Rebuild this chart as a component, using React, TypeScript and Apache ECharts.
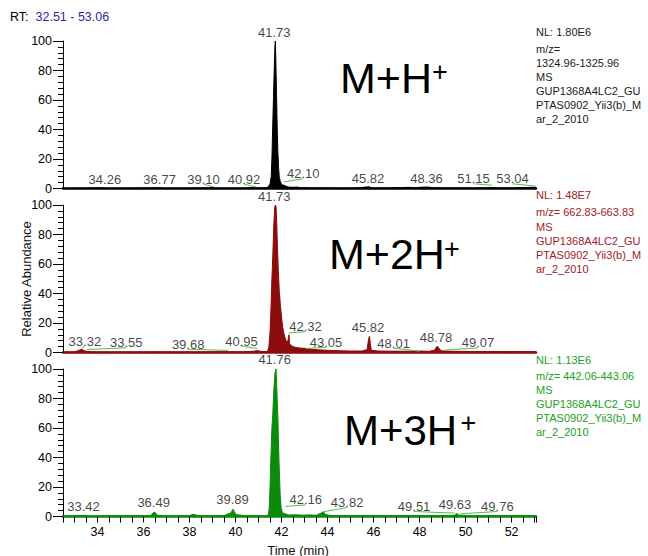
import React, { useEffect, useRef } from "react";
import * as echarts from "echarts";

// ---------- data ----------
const X_MIN = 32.5;
const X_MAX = 53.06;
const rtRange = "32.51 - 53.06";

// panel 1 : M+H+  (NL 1.80E6)
const trace1: number[][] = [
  [32.51, 0], [33.5, 0.2], [34.26, 0.5], [34.4, 0.1], [35.5, 0.2], [36.77, 0.5], [36.9, 0.1],
  [38.0, 0.2], [39.1, 0.6], [39.3, 0.1], [40.2, 0.2], [40.92, 0.7], [41.1, 0.3], [41.35, 0.5],
  [41.44, 1.5], [41.5, 3], [41.55, 8], [41.58, 20], [41.62, 45], [41.65, 62], [41.68, 80],
  [41.71, 96], [41.73, 100], [41.75, 88], [41.78, 65], [41.81, 42], [41.84, 25], [41.87, 14],
  [41.9, 8], [41.94, 5], [41.98, 3.5], [42.02, 2.5], [42.1, 2.2], [42.2, 1.5], [42.3, 1.0],
  [42.5, 0.8], [42.7, 1.0], [42.8, 0.4], [43.0, 0.6], [43.3, 0.3], [43.8, 0.4], [44.5, 0.2],
  [45.2, 0.3], [45.82, 1.2], [45.9, 0.3], [46.5, 0.4], [47.2, 0.6], [47.5, 0.8], [47.8, 0.5],
  [48.1, 0.9], [48.36, 1.0], [48.6, 0.5], [49.2, 0.3], [50.0, 0.4], [50.5, 0.3], [51.15, 0.7],
  [51.4, 0.3], [52.0, 0.4], [52.5, 0.6], [53.04, 0.9], [53.06, 0.5],
];

// panel 2 : M+2H+  (NL 1.48E7)
const trace2: number[][] = [
  [32.51, 0.3], [33.0, 0.4], [33.2, 1.5], [33.32, 2.2], [33.45, 1.0], [33.55, 0.8], [33.8, 0.4],
  [34.5, 0.3], [35.5, 0.3], [36.5, 0.4], [37.5, 0.3], [38.5, 0.4], [39.68, 0.5], [40.3, 0.4],
  [40.8, 0.9], [40.95, 1.3], [41.1, 0.8], [41.3, 0.5], [41.4, 1], [41.45, 4], [41.5, 14],
  [41.54, 30], [41.58, 50], [41.62, 66], [41.66, 85], [41.7, 98], [41.73, 100], [41.76, 99],
  [41.79, 88], [41.82, 72], [41.86, 55], [41.9, 42], [41.95, 32], [42.0, 24], [42.05, 17],
  [42.1, 13], [42.15, 10], [42.2, 8], [42.25, 6.5], [42.29, 9], [42.32, 12], [42.35, 6],
  [42.4, 5], [42.5, 4], [42.6, 3.5], [42.8, 3], [43.05, 2.8], [43.3, 2.2], [43.6, 1.8],
  [44.0, 1.5], [44.5, 1.2], [45.0, 1.0], [45.5, 1.0], [45.72, 2], [45.78, 9], [45.82, 11],
  [45.86, 6], [45.9, 1.5], [46.2, 1.0], [46.8, 0.9], [47.5, 0.8], [48.01, 1.0], [48.4, 0.8],
  [48.65, 1.5], [48.72, 3.5], [48.78, 4.2], [48.85, 2.5], [48.95, 1.2], [49.07, 1.0],
  [49.5, 0.8], [50.2, 0.7], [51.0, 0.6], [52.0, 0.6], [53.06, 0.5],
];

// panel 3 : M+3H+  (NL 1.13E6)
const trace3: number[][] = [
  [32.51, 0.3], [33.0, 0.5], [33.42, 0.8], [33.6, 0.3], [34.2, 0.4], [34.8, 0.5], [35.4, 0.4],
  [35.9, 0.6], [36.3, 0.5], [36.42, 2.5], [36.49, 3.0], [36.58, 1.0], [36.8, 0.5], [37.4, 0.4],
  [38.0, 0.6], [38.15, 1.5], [38.25, 1.2], [38.4, 0.5], [39.0, 0.4], [39.5, 0.6], [39.8, 2.5],
  [39.89, 5.0], [39.95, 3.0], [40.05, 1.2], [40.3, 0.8], [40.6, 0.5], [41.0, 0.5], [41.3, 0.4],
  [41.42, 1], [41.46, 5], [41.5, 20], [41.53, 37], [41.58, 60], [41.62, 70], [41.66, 84],
  [41.71, 97], [41.76, 100], [41.79, 88], [41.84, 67], [41.89, 37], [41.94, 15], [41.98, 6],
  [42.03, 3], [42.1, 2], [42.16, 1.8], [42.3, 1.0], [42.6, 1.2], [42.9, 0.9], [43.2, 1.1],
  [43.5, 0.8], [43.75, 2.5], [43.82, 3.2], [43.9, 1.5], [44.1, 0.7], [44.6, 0.6], [45.2, 0.5],
  [46.0, 0.6], [46.8, 0.5], [47.5, 0.6], [48.2, 0.5], [48.9, 0.6], [49.51, 0.8], [49.6, 1.8],
  [49.63, 2.0], [49.7, 1.0], [49.76, 0.9], [50.3, 0.5], [51.0, 0.6], [51.8, 0.5], [52.5, 0.6],
  [53.06, 0.5],
];

// peak annotations: peak time, label centre (time), label level (%), leader end level (null = no leader)
const peaks1 = [41.73, 34.26, 36.77, 39.1, 40.92, 42.1, 45.82, 48.36, 51.15, 53.04];
const labelAt1 = [41.68, 34.32, 36.7, 38.61, 40.37, 42.94, 45.76, 48.3, 50.34, 52.04];
const labelLevel1 = [105.9, 6.3, 6.3, 6.3, 6.3, 10.0, 6.6, 6.6, 6.6, 6.6];
const leaderEnd1 = [null, null, null, 0.9, 0.9, 4.5, null, null, 2.2, 1.6];

const peaks2 = [41.73, 33.32, 33.55, 39.68, 40.95, 42.32, 43.05, 45.82, 48.01, 48.78, 49.07];
const labelAt2 = [41.68, 33.45, 35.25, 37.94, 40.26, 43.04, 43.93, 45.76, 46.87, 48.71, 50.54];
const labelLevel2 = [105.9, 7.7, 6.6, 5.6, 7.7, 17.5, 7.0, 16.7, 6.3, 9.9, 6.5];
const leaderEnd2 = [null, 3.3, 2.0, 1.4, 2.7, 13.3, 2.7, null, 0.9, null, 1.6];

const peaks3 = [41.76, 33.42, 36.49, 39.89, 42.16, 43.82, 49.51, 49.63, 49.76];
const labelAt3 = [41.7, 33.39, 36.44, 39.87, 43.05, 44.85, 47.76, 49.54, 51.38];
const labelLevel3 = [106.2, 6.8, 9.3, 11.3, 11.3, 9.5, 6.8, 8.1, 6.8];
const leaderEnd3 = [null, null, null, null, 6.8, 3.2, 2.3, null, 1.8];

const xLabelTicks = [34, 36, 38, 40, 42, 44, 46, 48, 50, 52];

const info1 = ["NL: 1.80E6", "m/z=", "1324.96-1325.96", "MS", "GUP1368A4LC2_GU", "PTAS0902_Yii3(b)_M", "ar_2_2010"];
const info2 = ["NL: 1.48E7", "m/z= 662.83-663.83", "MS", "GUP1368A4LC2_GU", "PTAS0902_Yii3(b)_M", "ar_2_2010"];
const info3 = ["NL: 1.13E6", "m/z= 442.06-443.06", "MS", "GUP1368A4LC2_GU", "PTAS0902_Yii3(b)_M", "ar_2_2010"];
const ionNames = ["M+H", "M+2H", "M+3H"];

// ---------- styling / layout ----------
const FONT = '"Liberation Sans", Arial, sans-serif';
const seriesColors = ["#000000", "#8c0b0b", "#0b8a0b"];
const infoColors = ["#1a1a1a", "#a3201e", "#22a022"];
const leaderColor = "#55bb55";
const gridTops = [41, 205, 369];
const GRID_LEFT = 63;
const GRID_W = 473;
const GRID_H = 147.5;

export default function App() {
  const ref = useRef<HTMLDivElement>(null);

  useEffect(() => {
    if (!ref.current) return;
    const chart = echarts.init(ref.current, undefined, { renderer: "svg" });

    const traces = [trace1, trace2, trace3];
    const peaks = [peaks1, peaks2, peaks3];
    const labelAt = [labelAt1, labelAt2, labelAt3];
    const labelLevel = [labelLevel1, labelLevel2, labelLevel3];
    const leaderEnd = [leaderEnd1, leaderEnd2, leaderEnd3];
    const infos = [info1, info2, info3];

    const grids = gridTops.map((t) => ({ left: GRID_LEFT, top: t, width: GRID_W, height: GRID_H }));

    const xAxes = [0, 1, 2].map((i) => ({
      type: "value",
      gridIndex: i,
      min: X_MIN,
      max: X_MAX,
      interval: 0.5,
      axisLine: { show: true, onZero: false, lineStyle: { color: seriesColors[i], width: 2.5 } },
      axisTick: { show: i === 2, length: 6, lineStyle: { color: "#000", width: 1 } },
      axisLabel: {
        show: i === 2,
        margin: 9,
        fontSize: 12.5,
        fontFamily: FONT,
        color: "#000",
        formatter: (v: number) => (xLabelTicks.some((t) => Math.abs(t - v) < 1e-6) ? String(Math.round(v)) : ""),
      },
      splitLine: { show: false },
    }));

    const yAxes = [0, 1, 2].map((i) => ({
      type: "value",
      gridIndex: i,
      min: 0,
      max: 100,
      interval: 20,
      axisLine: { show: true, lineStyle: { color: "#000", width: 1 } },
      axisTick: { show: true, length: 10, lineStyle: { color: "#000", width: 1 } },
      minorTick: { show: true, splitNumber: 5, length: 5, lineStyle: { color: "#000", width: 1 } },
      axisLabel: { margin: 11, fontSize: 12.5, fontFamily: FONT, color: "#000" },
      splitLine: { show: false },
      minorSplitLine: { show: false },
    }));

    const series: any[] = [];
    [0, 1, 2].forEach((i) => {
      series.push({
        type: "line",
        xAxisIndex: i,
        yAxisIndex: i,
        data: traces[i],
        symbol: "none",
        showSymbol: false,
        lineStyle: { color: seriesColors[i], width: 1 },
        areaStyle: { color: seriesColors[i], opacity: 1 },
        silent: true,
        z: 2,
      });
      const leaders: any[] = [];
      peaks[i].forEach((p, k) => {
        const end = leaderEnd[i][k];
        if (end !== null && end !== undefined) {
          leaders.push({ coords: [[labelAt[i][k], labelLevel[i][k] - 3.4], [p, end]] });
        }
      });
      series.push({
        type: "lines",
        coordinateSystem: "cartesian2d",
        xAxisIndex: i,
        yAxisIndex: i,
        data: leaders,
        lineStyle: { color: leaderColor, width: 1, opacity: 1 },
        symbol: "none",
        silent: true,
        z: 3,
      });
      series.push({
        type: "scatter",
        xAxisIndex: i,
        yAxisIndex: i,
        data: peaks[i].map((p, k) => [labelAt[i][k], labelLevel[i][k], p]),
        symbolSize: 1,
        itemStyle: { color: "rgba(0,0,0,0)" },
        clip: false,
        silent: true,
        z: 4,
        label: {
          show: true,
          position: "inside",
          formatter: (pr: any) => Number(pr.value[2]).toFixed(2),
          color: "#111",
          fontSize: 13,
          fontFamily: FONT,
        },
      });
    });

    const txt = (x: number, y: number, text: string, size: number, fill: string, align = "left", extra: any = {}) => ({
      type: "text",
      x,
      y,
      silent: true,
      ...extra,
      style: {
        text,
        fill,
        font: `${size}px ${FONT}`,
        align,
        verticalAlign: "middle",
        textAlign: align,
        textVerticalAlign: "middle",
      },
    });

    const graphics: any[] = [];
    graphics.push(txt(10, 16.5, "RT:", 12.5, "#000"));
    graphics.push(txt(35.5, 16.5, rtRange, 12.5, "#2a2aa8"));
    graphics.push(txt(26.5, 279, "Relative Abundance", 13, "#111", "center", { rotation: Math.PI / 2 }));
    graphics.push(txt(298, 550, "Time (min)", 13, "#111", "center"));

    // ion labels with superscript +
    const ionPos = [
      { x: 340, y: 77.5, sx: 432, sy: 71.5, size: 43 },
      { x: 329, y: 254, sx: 444, sy: 249, size: 43 },
      { x: 344, y: 430, sx: 460.5, sy: 422.5, size: 42 },
    ];
    ionNames.forEach((n, i) => {
      const p = ionPos[i];
      graphics.push(txt(p.x, p.y, n, p.size, "#000"));
      graphics.push(txt(p.sx, p.sy, "+", 27, "#000"));
    });

    // info blocks on the right
    const infoPos = [
      { nl: 31.7, first: 49, lh: 13.9 },
      { nl: 194.5, first: 212.3, lh: 14.2 },
      { nl: 360, first: 376, lh: 14.1 },
    ];
    infos.forEach((lines, i) => {
      const p = infoPos[i];
      lines.forEach((l, k) => {
        const y = k === 0 ? p.nl : p.first + (k - 1) * p.lh;
        graphics.push(txt(536, y, l, 11, infoColors[i]));
      });
    });

    chart.setOption({
      animation: false,
      backgroundColor: "#ffffff",
      grid: grids,
      xAxis: xAxes,
      yAxis: yAxes,
      series,
      graphic: graphics,
    });

    return () => chart.dispose();
  }, []);

  return (
    <div
      ref={ref}
      style={{ position: "fixed", left: 0, top: 0, width: 648, height: 556, background: "#fff" }}
    />
  );
}
